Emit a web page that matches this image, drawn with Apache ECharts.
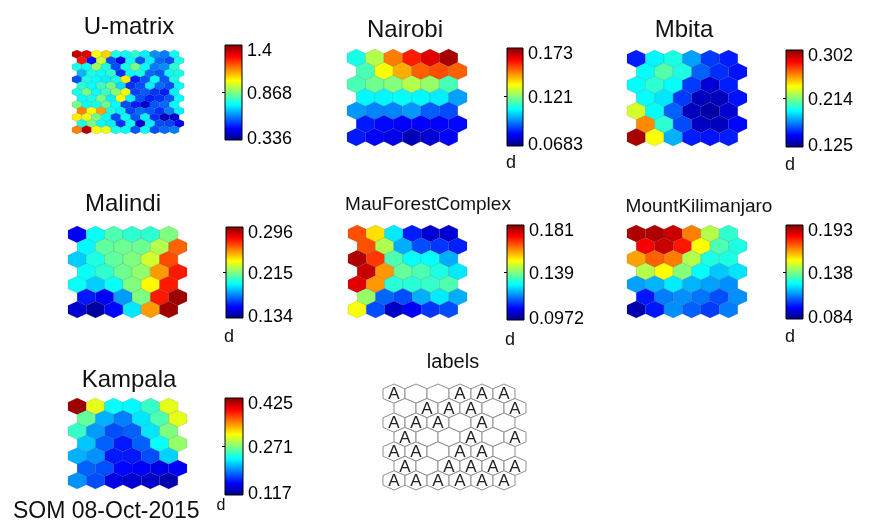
<!DOCTYPE html>
<html>
<head>
<meta charset="utf-8">
<script src="https://cdn.jsdelivr.net/npm/echarts@6/dist/echarts.min.js"></script>
<style>
  html, body { margin: 0; padding: 0; background: #ffffff; }
  #chart { width: 874px; height: 529px; }
</style>
</head>
<body>
<div id="chart"></div>
<script>
// ---- SOM component planes: unit values, row by row (odd rows shifted right) ----
const umatrix = [
  [1.33, 1.30, 1.00, 1.05, 0.76, 0.74, 0.78, 0.72, 0.62, 0.60, 0.74],
  [1.25, 0.48, 0.95, 0.55, 0.45, 0.74, 0.56, 0.72, 0.58, 0.55, 0.76],
  [0.76, 0.74, 0.90, 0.76, 0.55, 0.76, 0.86, 0.74, 0.60, 0.62, 0.78],
  [0.66, 0.76, 0.74, 0.78, 0.52, 0.74, 0.76, 0.58, 0.56, 0.74, 0.76],
  [0.55, 0.76, 0.74, 0.72, 0.76, 1.02, 0.50, 0.56, 0.74, 0.56, 0.76],
  [0.78, 0.74, 0.80, 0.86, 0.70, 0.52, 0.55, 0.72, 0.58, 0.55, 0.74],
  [0.76, 0.86, 0.74, 0.80, 0.88, 0.98, 0.54, 0.56, 0.52, 0.50, 0.72],
  [0.74, 0.76, 0.86, 0.72, 1.00, 0.72, 0.55, 0.50, 0.52, 0.56, 0.74],
  [0.86, 0.74, 0.76, 0.84, 0.74, 0.55, 0.50, 0.42, 0.56, 0.58, 0.74],
  [1.13, 1.00, 1.10, 0.76, 0.72, 0.54, 0.58, 0.56, 0.52, 0.60, 0.72],
  [1.02, 0.98, 0.86, 0.74, 0.55, 0.74, 0.56, 0.72, 0.52, 0.40, 0.42],
  [0.76, 0.86, 0.74, 0.72, 0.52, 0.74, 0.42, 0.72, 0.55, 0.54, 0.45],
  [1.13, 1.34, 1.00, 0.98, 0.76, 0.74, 0.56, 0.74, 0.55, 0.58, 0.60]
];
const nairobi = [
  [0.110, 0.126, 0.147, 0.157, 0.163, 0.169],
  [0.115, 0.133, 0.142, 0.150, 0.152, 0.150],
  [0.115, 0.119, 0.121, 0.126, 0.123, 0.115],
  [0.107, 0.107, 0.108, 0.107, 0.106, 0.098],
  [0.097, 0.095, 0.095, 0.097, 0.091, 0.089],
  [0.084, 0.082, 0.081, 0.081, 0.081, 0.082],
  [0.084, 0.081, 0.079, 0.074, 0.077, 0.081]
];
const mbita = [
  [0.152, 0.190, 0.196, 0.175, 0.157, 0.152],
  [0.192, 0.206, 0.196, 0.164, 0.155, 0.150],
  [0.192, 0.199, 0.192, 0.157, 0.140, 0.152],
  [0.192, 0.187, 0.157, 0.136, 0.136, 0.150],
  [0.228, 0.192, 0.164, 0.136, 0.132, 0.139],
  [0.256, 0.199, 0.160, 0.137, 0.136, 0.148],
  [0.295, 0.235, 0.178, 0.152, 0.150, 0.152]
];
const malindi = [
  [0.153, 0.196, 0.207, 0.202, 0.202, 0.215],
  [0.194, 0.210, 0.212, 0.212, 0.223, 0.260],
  [0.187, 0.199, 0.210, 0.215, 0.228, 0.264],
  [0.196, 0.202, 0.212, 0.218, 0.251, 0.272],
  [0.196, 0.187, 0.196, 0.215, 0.236, 0.272],
  [0.158, 0.153, 0.179, 0.215, 0.272, 0.291],
  [0.147, 0.139, 0.155, 0.191, 0.251, 0.291]
];
const mauForestComplex = [
  [0.164, 0.152, 0.127, 0.110, 0.104, 0.104],
  [0.164, 0.143, 0.122, 0.114, 0.112, 0.110],
  [0.177, 0.166, 0.135, 0.129, 0.129, 0.122],
  [0.175, 0.158, 0.137, 0.135, 0.131, 0.127],
  [0.173, 0.158, 0.132, 0.132, 0.133, 0.135],
  [0.141, 0.116, 0.114, 0.122, 0.127, 0.122],
  [0.149, 0.114, 0.103, 0.107, 0.112, 0.114]
];
const mountKilimanjaro = [
  [0.188, 0.188, 0.185, 0.166, 0.144, 0.130],
  [0.180, 0.185, 0.177, 0.152, 0.133, 0.128],
  [0.162, 0.169, 0.166, 0.144, 0.128, 0.128],
  [0.144, 0.152, 0.139, 0.125, 0.119, 0.122],
  [0.115, 0.117, 0.123, 0.117, 0.115, 0.113],
  [0.100, 0.111, 0.113, 0.110, 0.106, 0.113],
  [0.089, 0.100, 0.113, 0.108, 0.104, 0.111]
];
const kampala = [
  [0.416, 0.302, 0.234, 0.231, 0.249, 0.302],
  [0.262, 0.209, 0.194, 0.225, 0.256, 0.302],
  [0.249, 0.203, 0.179, 0.185, 0.225, 0.271],
  [0.216, 0.185, 0.163, 0.185, 0.234, 0.277],
  [0.209, 0.200, 0.163, 0.163, 0.179, 0.219],
  [0.185, 0.179, 0.157, 0.154, 0.148, 0.154],
  [0.200, 0.179, 0.148, 0.142, 0.139, 0.132]
];
// hit labels per unit
const unitLabels = [
  ['A', '',  '',  'A', 'A', 'A'],
  ['',  'A', 'A', 'A', '',  'A'],
  ['A', 'A', 'A', '',  'A', '' ],
  ['A', '',  '',  'A', '',  'A'],
  ['A', 'A', '',  'A', 'A', '' ],
  ['A', '',  'A', 'A', 'A', 'A'],
  ['A', 'A', 'A', 'A', 'A', 'A']
];
// colorbar tick labels: [min, mid, max]
const umatrixTicks = [0.336, 0.868, 1.4];
const nairobiTicks = [0.0683, 0.121, 0.173];
const mbitaTicks = [0.125, 0.214, 0.302];
const malindiTicks = [0.134, 0.215, 0.296];
const mauForestTicks = [0.0972, 0.139, 0.181];
const kilimanjaroTicks = [0.084, 0.138, 0.193];
const kampalaTicks = [0.117, 0.271, 0.425];

const planeNames = ['U-matrix', 'Nairobi', 'Mbita', 'Malindi', 'MauForestComplex', 'MountKilimanjaro', 'Kampala'];
const planeValues = [umatrix, nairobi, mbita, malindi, mauForestComplex, mountKilimanjaro, kampala];
const planeTicks = [umatrixTicks, nairobiTicks, mbitaTicks, malindiTicks, mauForestTicks, kilimanjaroTicks, kampalaTicks];
const unitName = 'd';
const footer = 'SOM 08-Oct-2015';

// ---- page layout (pixels) ----
const FONT = '"Liberation Sans", Arial, Helvetica, sans-serif';
const JET = ['#00007F', '#0000FF', '#007FFF', '#00FFFF', '#7FFF7F', '#FFFF00', '#FF7F00', '#FF0000', '#7F0000'];
const layout = [
  { hex: [72, 50, 112, 84],  bar: [225, 45, 17, 95],  title: [129, 27, 24], step: 0.5, unit: null },
  { hex: [347, 49, 120, 97], bar: [507, 48, 16, 98],  title: [405, 30, 24], step: 1, unit: [511, 163, 18] },
  { hex: [627, 50, 120, 96], bar: [786, 50, 17, 97],  title: [684, 30, 24], step: 1, unit: [790, 165, 18] },
  { hex: [68, 226, 119, 92], bar: [226, 227, 17, 91], title: [123, 204, 24], step: 1, unit: [229, 337, 18] },
  { hex: [348, 225, 119, 93], bar: [507, 225, 17, 95], title: [428, 205, 19], step: 1, unit: [510, 340, 18] },
  { hex: [627, 225, 120, 93], bar: [786, 225, 17, 94], title: [699, 207, 19], step: 1, unit: [790, 337, 18] },
  { hex: [68, 398, 119, 91], bar: [225, 398, 18, 97], title: [129, 380, 24], step: 1, unit: [221, 506, 16] }
];
const labelsLayout = { hex: [383, 384, 143, 106], title: [453, 362, 20] };

const S3 = Math.sqrt(3);
const grids = [], xAxes = [], yAxes = [], series = [], visualMaps = [], titles = [];

function hexPoints(api, x, y, R) {
  const pts = [];
  for (let j = 0; j < 6; j++) {
    const a = Math.PI / 180 * (90 + 60 * j);
    pts.push(api.coord([x + R * Math.cos(a), y + R * Math.sin(a)]));
  }
  return pts;
}

// adds a hex-lattice grid and returns its index plus lattice geometry
function addHexGrid(box, rows, cols, step) {
  const R = step / S3, rowH = step * S3 / 2;
  const gi = grids.length;
  grids.push({ left: box[0], top: box[1], width: box[2], height: box[3], outerBoundsMode: 'none', containLabel: false });
  xAxes.push({ gridIndex: gi, type: 'value', min: -step / 2, max: cols * step, show: false });
  yAxes.push({ gridIndex: gi, type: 'value', min: -R, max: (rows - 1) * rowH + R, inverse: true, show: false });
  return { gi, R, rowH };
}

function latticeData(values, step, rowH) {
  const out = [];
  values.forEach((row, r) => row.forEach((v, c) => {
    out.push([c * step + (r % 2) * step / 2, r * rowH, v]);
  }));
  return out;
}

const barGradient = {
  type: 'linear', x: 0, y: 0, x2: 0, y2: 1,
  colorStops: JET.slice().reverse().map((c, i) => ({ offset: i / (JET.length - 1), color: c }))
};

planeNames.forEach((name, i) => {
  const L = layout[i];
  const values = planeValues[i];
  const ticks = planeTicks[i];
  const rows = values.length, cols = values[0].length;
  const g = addHexGrid(L.hex, rows, cols, L.step);
  const sIdx = series.length;
  series.push({
    type: 'custom', name, xAxisIndex: g.gi, yAxisIndex: g.gi,
    data: latticeData(values, L.step, g.rowH),
    encode: { x: 0, y: 1 },
    renderItem: (params, api) => ({
      type: 'polygon',
      shape: { points: hexPoints(api, api.value(0), api.value(1), g.R) },
      style: { fill: api.visual('color'), stroke: 'rgba(40,40,40,0.18)', lineWidth: 0.7 }
    })
  });
  visualMaps.push({
    type: 'continuous', show: false, seriesIndex: sIdx, dimension: 2,
    min: ticks[0], max: ticks[2], inRange: { color: JET }
  });

  // colorbar
  const bi = grids.length;
  grids.push({ left: L.bar[0], top: L.bar[1], width: L.bar[2], height: L.bar[3], outerBoundsMode: 'none', containLabel: false });
  xAxes.push({ gridIndex: bi, type: 'value', min: 0, max: 1, show: false });
  const lab = { fontSize: 18, fontFamily: FONT, color: '#000' };
  yAxes.push({
    gridIndex: bi, type: 'value', position: 'right', min: ticks[0], max: ticks[2],
    axisLine: { show: false }, splitLine: { show: false },
    axisTick: { show: true, inside: true, length: 3, customValues: [ticks[1]], lineStyle: { color: '#000', width: 1 } },
    axisLabel: {
      customValues: ticks, margin: 5, fontSize: 18, fontFamily: FONT, color: '#000',
      formatter: v => (v === ticks[2] ? '{hi|' + v + '}' : v === ticks[0] ? '{lo|' + v + '}' : '{mid|' + v + '}'),
      rich: {
        hi: Object.assign({ padding: [12, 0, 0, 0] }, lab),
        mid: Object.assign({ padding: [3, 0, 0, 0] }, lab),
        lo: Object.assign({ padding: [0, 0, 2, 0] }, lab)
      }
    }
  });
  series.push({
    type: 'custom', silent: true, xAxisIndex: bi, yAxisIndex: bi,
    data: [[0, ticks[0], ticks[2]]],
    encode: { x: 0, y: 1 },
    renderItem: (params, api) => {
      const p0 = api.coord([0, api.value(2)]);
      const p1 = api.coord([1, api.value(1)]);
      return {
        type: 'rect',
        shape: { x: p0[0], y: p0[1], width: p1[0] - p0[0], height: p1[1] - p0[1] },
        style: { fill: barGradient, stroke: '#000', lineWidth: 1 }
      };
    }
  });

  titles.push({
    text: name, left: L.title[0], top: L.title[1], textAlign: 'center', textVerticalAlign: 'middle', padding: 0,
    textStyle: { fontSize: L.title[2], fontWeight: 'normal', fontFamily: FONT, color: '#111' }
  });
  if (L.unit) {
    titles.push({
      text: unitName, left: L.unit[0], top: L.unit[1], textAlign: 'center', textVerticalAlign: 'middle', padding: 0,
      textStyle: { fontSize: L.unit[2], fontWeight: 'normal', fontFamily: FONT, color: '#111' }
    });
  }
});

// hit-label map
(function () {
  const rows = unitLabels.length, cols = unitLabels[0].length;
  const g = addHexGrid(labelsLayout.hex, rows, cols, 1);
  const flat = [];
  unitLabels.forEach(row => row.forEach(t => flat.push(t)));
  series.push({
    type: 'custom', name: 'labels', xAxisIndex: g.gi, yAxisIndex: g.gi,
    data: latticeData(unitLabels.map(row => row.map(() => 0)), 1, g.rowH).map(d => [d[0], d[1]]),
    encode: { x: 0, y: 1 },
    renderItem: (params, api) => {
      const x = api.value(0), y = api.value(1);
      const children = [{
        type: 'polygon',
        shape: { points: hexPoints(api, x, y, g.R) },
        style: { fill: '#ffffff', stroke: '#8f8f8f', lineWidth: 1 }
      }];
      const t = flat[params.dataIndex];
      if (t) {
        const c = api.coord([x, y]);
        children.push({
          type: 'text', x: c[0], y: c[1] + 1,
          style: { text: t, fill: '#222', font: '17px ' + FONT, textAlign: 'center', textVerticalAlign: 'middle' }
        });
      }
      return { type: 'group', children };
    }
  });
  titles.push({
    text: 'labels', left: labelsLayout.title[0], top: labelsLayout.title[1], textAlign: 'center', textVerticalAlign: 'middle', padding: 0,
    textStyle: { fontSize: labelsLayout.title[2], fontWeight: 'normal', fontFamily: FONT, color: '#111' }
  });
})();

titles.push({
  text: footer, left: 13, top: 512, textAlign: 'left', textVerticalAlign: 'middle', padding: 0,
  textStyle: { fontSize: 23, fontWeight: 'normal', fontFamily: FONT, color: '#111' }
});

const chart = echarts.init(document.getElementById('chart'), null, { renderer: 'canvas' });
chart.setOption({
  backgroundColor: '#ffffff',
  animation: false,
  title: titles,
  grid: grids,
  xAxis: xAxes,
  yAxis: yAxes,
  visualMap: visualMaps,
  series: series
});
</script>
</body>
</html>
